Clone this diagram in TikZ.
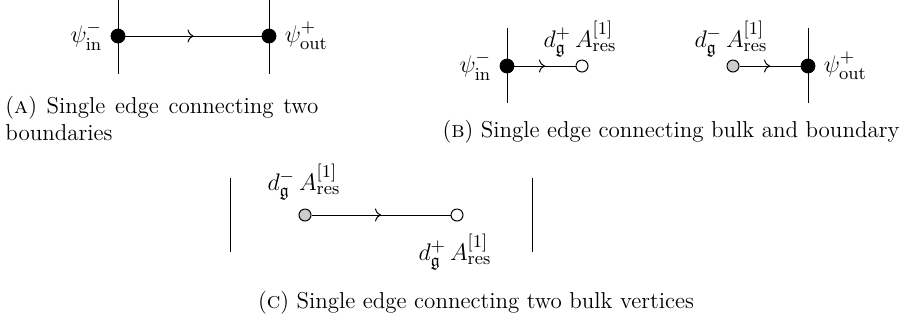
\documentclass[tikz,border=0pt]{standalone}
\usepackage{amsmath,amssymb}
\usetikzlibrary{decorations.markings,arrows.meta}
\tikzset{
  bdot/.style={circle,fill=black,draw=black,inner sep=0pt,minimum size=7pt},
  wdot/.style={circle,fill=white,draw=black,line width=0.5pt,inner sep=0pt,minimum size=6pt},
  gdot/.style={circle,fill=black!20,draw=black,line width=0.5pt,inner sep=0pt,minimum size=6pt},
  midarrow/.style={line width=0.5pt,postaction={decorate},decoration={markings,mark=at position 0.5 with {\arrow{To[length=3pt,width=6.5pt]}}}},
  wall/.style={line width=0.5pt},
  lbl/.style={inner sep=0pt,font=\fontsize{13}{15}\selectfont},
  captxt/.style={inner sep=0pt,font=\fontsize{11.5}{13.6}\selectfont},
}
\begin{document}
\begin{tikzpicture}[x=0.5pt,y=-0.5pt]
\useasboundingbox (0,0) rectangle (915,329);
% ---------- panel A ----------
\coordinate (a1t) at (118,0); \coordinate (a1b) at (118,74);
\coordinate (a2t) at (269,0); \coordinate (a2b) at (269,74);
\draw[wall] (a1t) -- (a1b);
\draw[wall] (a2t) -- (a2b);
\node[bdot] (ain) at (118,36) {};
\node[bdot] (aout) at (269,36) {};
\draw[midarrow] (ain) -- (aout);
\node[lbl,anchor=east] (ainl) at ([xshift=-4pt]ain.west) {$\psi^{-}_{\mathrm{in}}$};
\node[lbl,anchor=west] (aoutl) at ([xshift=4pt]aout.east) {$\psi^{+}_{\mathrm{out}}$};
\node[captxt,anchor=base west] (capa) at (5,113) {\parbox[t]{156.5pt}{(\textsc{a}) Single edge connecting two\linebreak boundaries}};
% ---------- panel B ----------
\coordinate (b1t) at (507,28); \coordinate (b1b) at (507,103);
\coordinate (b2t) at (808,28); \coordinate (b2b) at (808,103);
\draw[wall] (b1t) -- (b1b);
\draw[wall] (b2t) -- (b2b);
\node[bdot] (bin) at (507,66) {};
\node[wdot] (bw) at (582,66) {};
\draw[midarrow] (bin) -- (bw);
\node[lbl,anchor=east] (binl) at ([xshift=-4pt]bin.west) {$\psi^{-}_{\mathrm{in}}$};
\node[lbl] (bwl) at (580,39) {$d^{+}_{\mathfrak{g}}\,A^{[1]}_{\mathrm{res}}$};
\node[gdot] (bg) at (733,66) {};
\node[bdot] (bout) at (808,66) {};
\draw[midarrow] (bg) -- (bout);
\node[lbl] (bgl) at (731,39) {$d^{-}_{\mathfrak{g}}\,A^{[1]}_{\mathrm{res}}$};
\node[lbl,anchor=west] (boutl) at ([xshift=4pt]bout.east) {$\psi^{+}_{\mathrm{out}}$};
\node[captxt,anchor=base] (capb) at (671,137) {(\textsc{b}) Single edge connecting bulk and boundary};
% ---------- panel C ----------
\coordinate (c1t) at (230,178); \coordinate (c1b) at (230,252);
\coordinate (c2t) at (532,178); \coordinate (c2b) at (532,252);
\draw[wall] (c1t) -- (c1b);
\draw[wall] (c2t) -- (c2b);
\node[gdot] (cg) at (305,215) {};
\node[wdot] (cw) at (457,215) {};
\draw[midarrow] (cg) -- (cw);
\node[lbl] (cgl) at (304,182) {$d^{-}_{\mathfrak{g}}\,A^{[1]}_{\mathrm{res}}$};
\node[lbl] (cwl) at (455,252) {$d^{+}_{\mathfrak{g}}\,A^{[1]}_{\mathrm{res}}$};
\node[captxt,anchor=base] (capc) at (476,308) {(\textsc{c}) Single edge connecting two bulk vertices};
\end{tikzpicture}
\end{document}
